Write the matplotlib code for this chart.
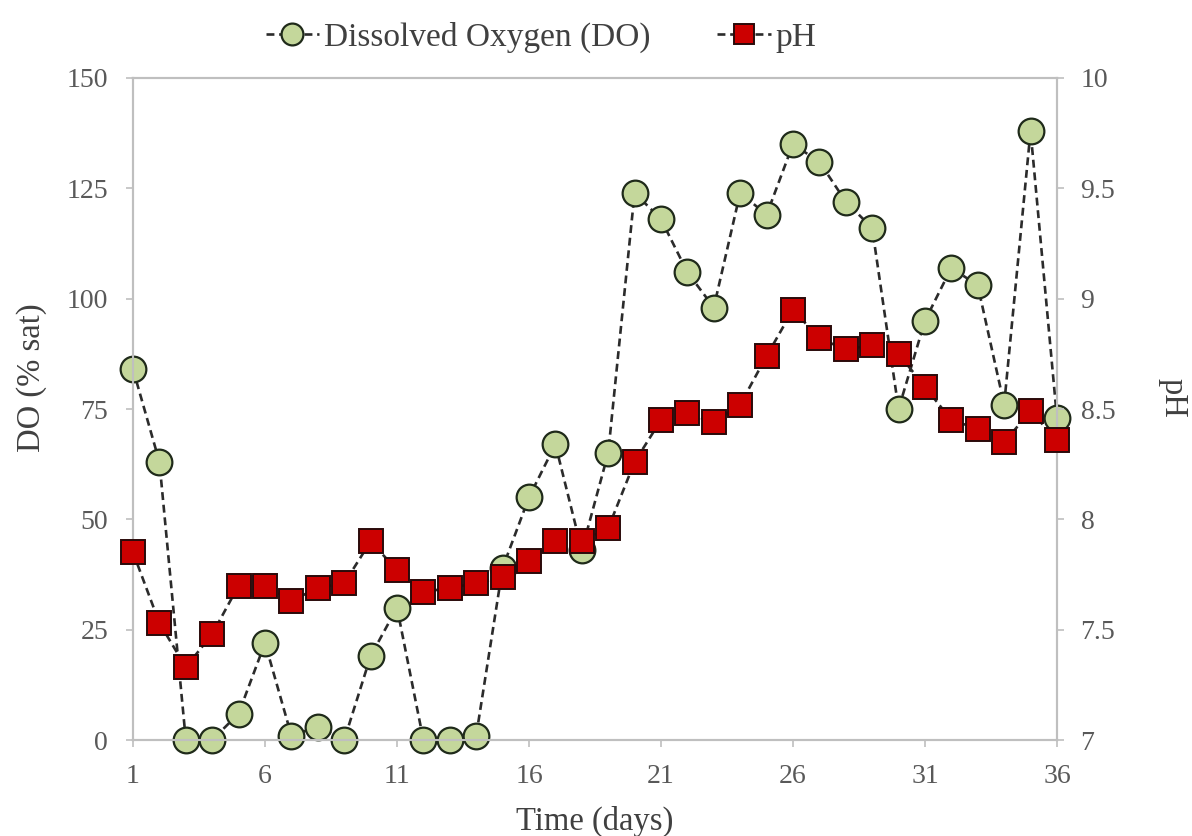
import matplotlib.pyplot as plt
import numpy as np

# data
days = np.arange(1, 37)
do_sat = [84, 63, 0, 0, 6, 22, 1, 3, 0, 19, 30, 0, 0, 1, 39, 55, 67, 43,
          65, 124, 118, 106, 98, 124, 119, 135, 131, 122, 116, 75, 95, 107,
          103, 76, 138, 73]
ph = [7.85, 7.53, 7.33, 7.48, 7.70, 7.70, 7.63, 7.69, 7.71, 7.90, 7.77,
      7.67, 7.69, 7.71, 7.74, 7.81, 7.90, 7.90, 7.96, 8.26, 8.45, 8.48,
      8.44, 8.52, 8.74, 8.95, 8.82, 8.77, 8.79, 8.75, 8.60, 8.45, 8.41,
      8.35, 8.49, 8.36]
x_ticks = [1, 6, 11, 16, 21, 26, 31, 36]
do_ticks = [0, 25, 50, 75, 100, 125, 150]
ph_ticks = [7, 7.5, 8, 8.5, 9, 9.5, 10]
ph_tick_labels = ['7', '7.5', '8', '8.5', '9', '9.5', '10']

plt.rcParams['font.family'] = ['Liberation Serif', 'DejaVu Serif']
txt = '#404040'
tick_col = '#595959'
spine_col = '#bfbfbf'

fig = plt.figure(figsize=(11.92, 8.36), dpi=100)
ax = fig.add_axes([0.1116, 0.1148, 0.7751, 0.7919])
ax2 = ax.twinx()

dash = (0, (3, 1.8))
l1, = ax.plot(days, do_sat, linestyle=dash, color='#2b2b2b', lw=1.9,
              marker='o', ms=18.5, mfc='#c4d79b', mec='#1f2a1a', mew=1.6,
              clip_on=False, zorder=3, label='Dissolved Oxygen (DO)')
l2, = ax2.plot(days, ph, linestyle=dash, color='#2b2b2b', lw=1.9,
               marker='s', ms=17.5, mfc='#cc0000', mec='#2a0a0a', mew=1.4,
               clip_on=False, zorder=3, label='pH')

ax.set_xlim(1, 36)
ax.set_ylim(0, 150)
ax2.set_ylim(7, 10)
ax.set_xticks(x_ticks)
ax.set_yticks(do_ticks)
ax2.set_yticks(ph_ticks)
ax2.set_yticklabels(ph_tick_labels)

for a in (ax, ax2):
    for s in a.spines.values():
        s.set_color(spine_col)
        s.set_linewidth(1.5)
    a.tick_params(colors=spine_col, labelcolor=tick_col, labelsize=20,
                  length=5, width=1.2)
ax.tick_params(axis='x', pad=12)
ax.tick_params(axis='y', pad=13)
ax2.tick_params(axis='y', pad=12)

ax.set_xlabel('Time (days)', fontsize=23.5, color=txt, labelpad=12)
ax.set_ylabel('DO (% sat)', fontsize=23.5, color=txt, labelpad=14, y=0.547)
ax2.set_ylabel('pH', fontsize=23.5, color=txt, rotation=270, labelpad=52,
               y=0.517)

fig.legend(handles=[l1, l2], loc='upper center', bbox_to_anchor=(0.454, 1.01),
           ncol=2, frameon=False, fontsize=24, handlelength=1.6,
           handletextpad=0.15, columnspacing=2.0, labelcolor=txt,
           markerscale=0.85)

fig.savefig('out.png', dpi=100)
